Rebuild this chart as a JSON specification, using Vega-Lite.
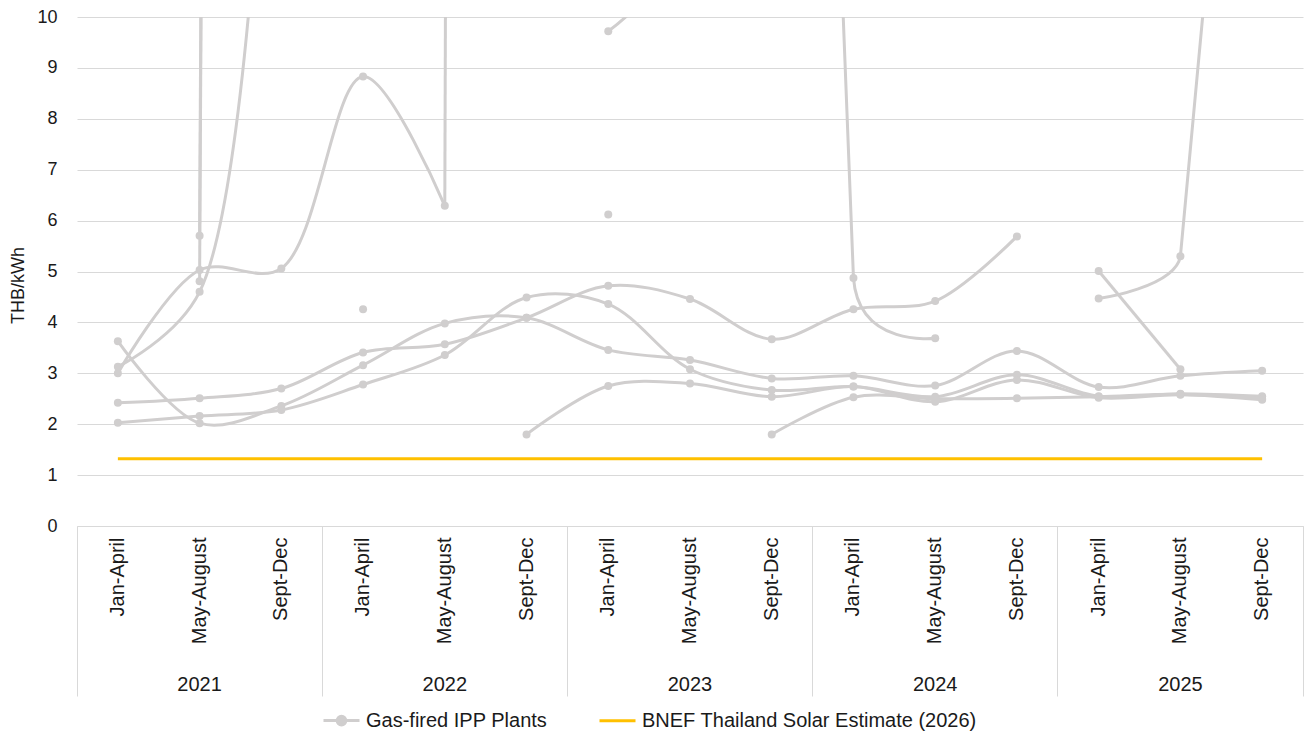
{
  "$schema": "https://vega.github.io/schema/vega-lite/v6.json",
  "width": 1226,
  "height": 509,
  "autosize": {"type": "none"},
  "padding": {"left": 77, "top": 17, "right": 3, "bottom": 209},
  "background": "white",
  "config": {
    "view": {"stroke": null},
    "font": "Liberation Sans",
    "axis": {"labelFont": "Liberation Sans", "titleFont": "Liberation Sans"},
    "legend": {"labelFont": "Liberation Sans"}
  },
  "datasets": {
    "gas": [
      {"p": "L1", "t": "2021 Jan-April", "v": 2.42},
      {"p": "L1", "t": "2021 May-August", "v": 2.51},
      {"p": "L1", "t": "2021 Sept-Dec", "v": 2.70},
      {"p": "L1", "t": "2022 Jan-April", "v": 3.41},
      {"p": "L1", "t": "2022 May-August", "v": 3.57},
      {"p": "L1", "t": "2022 Sept-Dec", "v": 4.09},
      {"p": "L1", "t": "2023 Jan-April", "v": 4.72},
      {"p": "L1", "t": "2023 May-August", "v": 4.46},
      {"p": "L1", "t": "2023 Sept-Dec", "v": 3.67},
      {"p": "L1", "t": "2024 Jan-April", "v": 4.26},
      {"p": "L1", "t": "2024 May-August", "v": 4.42},
      {"p": "L1", "t": "2024 Sept-Dec", "v": 5.69},

      {"p": "L2", "t": "2021 Jan-April", "v": 2.03},
      {"p": "L2", "t": "2021 May-August", "v": 2.16},
      {"p": "L2", "t": "2021 Sept-Dec", "v": 2.28},
      {"p": "L2", "t": "2022 Jan-April", "v": 2.78},
      {"p": "L2", "t": "2022 May-August", "v": 3.36},
      {"p": "L2", "t": "2022 Sept-Dec", "v": 4.49},
      {"p": "L2", "t": "2023 Jan-April", "v": 4.36},
      {"p": "L2", "t": "2023 May-August", "v": 3.08},
      {"p": "L2", "t": "2023 Sept-Dec", "v": 2.67},
      {"p": "L2", "t": "2024 Jan-April", "v": 2.74},
      {"p": "L2", "t": "2024 May-August", "v": 2.54},
      {"p": "L2", "t": "2024 Sept-Dec", "v": 2.97},
      {"p": "L2", "t": "2025 Jan-April", "v": 2.55},
      {"p": "L2", "t": "2025 May-August", "v": 2.60},
      {"p": "L2", "t": "2025 Sept-Dec", "v": 2.55},

      {"p": "L3", "t": "2021 Jan-April", "v": 3.63},
      {"p": "L3", "t": "2021 May-August", "v": 2.02},
      {"p": "L3", "t": "2021 Sept-Dec", "v": 2.36},
      {"p": "L3", "t": "2022 Jan-April", "v": 3.16},
      {"p": "L3", "t": "2022 May-August", "v": 3.98},
      {"p": "L3", "t": "2022 Sept-Dec", "v": 4.09},
      {"p": "L3", "t": "2023 Jan-April", "v": 3.46},
      {"p": "L3", "t": "2023 May-August", "v": 3.26},
      {"p": "L3", "t": "2023 Sept-Dec", "v": 2.90},
      {"p": "L3", "t": "2024 Jan-April", "v": 2.95},
      {"p": "L3", "t": "2024 May-August", "v": 2.76},
      {"p": "L3", "t": "2024 Sept-Dec", "v": 3.44},
      {"p": "L3", "t": "2025 Jan-April", "v": 2.73},
      {"p": "L3", "t": "2025 May-August", "v": 2.95},
      {"p": "L3", "t": "2025 Sept-Dec", "v": 3.05},

      {"p": "A", "t": "2021 Jan-April", "v": 3.13},
      {"p": "A", "t": "2021 May-August", "v": 4.60},
      {"p": "A", "t": "2021 Sept-Dec", "v": 22},

      {"p": "B", "t": "2021 Jan-April", "v": 3.00},
      {"p": "B", "t": "2021 May-August", "v": 5.03},
      {"p": "B", "t": "2021 Sept-Dec", "v": 5.06},
      {"p": "B", "t": "2022 Jan-April", "v": 8.83},
      {"p": "B", "t": "2022 May-August", "v": 6.29},
      {"p": "B", "t": "2022 Sept-Dec", "v": 500},

      {"p": "D", "t": "2021 May-August", "v": 5.70},
      {"p": "D", "t": "2021 Sept-Dec", "v": 300},

      {"p": "F", "t": "2021 May-August", "v": 4.81},
      {"p": "F", "t": "2021 Sept-Dec", "v": 300},

      {"p": "J", "t": "2022 Jan-April", "v": 4.26},
      {"p": "K", "t": "2023 Jan-April", "v": 6.12},

      {"p": "C", "t": "2023 Jan-April", "v": 9.72},
      {"p": "C", "t": "2023 May-August", "v": 12},
      {"p": "C", "t": "2023 Sept-Dec", "v": 45},
      {"p": "C", "t": "2024 Jan-April", "v": 4.87},
      {"p": "C", "t": "2024 May-August", "v": 3.69},

      {"p": "V1", "t": "2022 Sept-Dec", "v": 1.80},
      {"p": "V1", "t": "2023 Jan-April", "v": 2.75},
      {"p": "V1", "t": "2023 May-August", "v": 2.80},
      {"p": "V1", "t": "2023 Sept-Dec", "v": 2.54},
      {"p": "V1", "t": "2024 Jan-April", "v": 2.74},
      {"p": "V1", "t": "2024 May-August", "v": 2.44},
      {"p": "V1", "t": "2024 Sept-Dec", "v": 2.87},
      {"p": "V1", "t": "2025 Jan-April", "v": 2.52},
      {"p": "V1", "t": "2025 May-August", "v": 2.58},
      {"p": "V1", "t": "2025 Sept-Dec", "v": 2.48},

      {"p": "V2", "t": "2023 Sept-Dec", "v": 1.80},
      {"p": "V2", "t": "2024 Jan-April", "v": 2.53},
      {"p": "V2", "t": "2024 May-August", "v": 2.50},
      {"p": "V2", "t": "2024 Sept-Dec", "v": 2.51},
      {"p": "V2", "t": "2025 Jan-April", "v": 2.54},
      {"p": "V2", "t": "2025 May-August", "v": 2.59},
      {"p": "V2", "t": "2025 Sept-Dec", "v": 2.50},

      {"p": "G", "t": "2025 Jan-April", "v": 4.47},
      {"p": "G", "t": "2025 May-August", "v": 5.30},
      {"p": "G", "t": "2025 Sept-Dec", "v": 23},

      {"p": "I", "t": "2025 Jan-April", "v": 5.01},
      {"p": "I", "t": "2025 May-August", "v": 3.08}
    ],
    "bnef": [
      {"t": "2021 Jan-April", "v": 1.32},
      {"t": "2021 May-August", "v": 1.32},
      {"t": "2021 Sept-Dec", "v": 1.32},
      {"t": "2022 Jan-April", "v": 1.32},
      {"t": "2022 May-August", "v": 1.32},
      {"t": "2022 Sept-Dec", "v": 1.32},
      {"t": "2023 Jan-April", "v": 1.32},
      {"t": "2023 May-August", "v": 1.32},
      {"t": "2023 Sept-Dec", "v": 1.32},
      {"t": "2024 Jan-April", "v": 1.32},
      {"t": "2024 May-August", "v": 1.32},
      {"t": "2024 Sept-Dec", "v": 1.32},
      {"t": "2025 Jan-April", "v": 1.32},
      {"t": "2025 May-August", "v": 1.32},
      {"t": "2025 Sept-Dec", "v": 1.32}
    ]
  },
  "encoding": {
    "y": {
      "field": "v", "type": "quantitative",
      "scale": {"domain": [0, 10], "nice": false},
      "axis": {
        "title": "THB/kWh", "values": [0, 1, 2, 3, 4, 5, 6, 7, 8, 9, 10],
        "grid": true, "gridColor": "#d9d9d9", "gridWidth": 1, "domain": false, "ticks": false,
        "labelFontSize": 18, "labelPadding": 20, "labelColor": "#1a1a1a",
        "titleFontSize": 18, "titleFontWeight": "normal", "titleColor": "#1a1a1a",
        "titleX": -59, "titleY": 268, "titleBaseline": "middle"
      }
    }
  },
  "layer": [
    {
      "data": {"name": "gas"},
      "transform": [{"filter": "datum.p !== 'C' && datum.p !== 'G' && !(datum.p === 'B' && datum.t === '2022 Sept-Dec')"}],
      "mark": {"type": "line", "interpolate": "catmull-rom", "strokeWidth": 3, "clip": true, "strokeJoin": "round"},
      "encoding": {
        "x": {
          "field": "t", "type": "ordinal", "bandPosition": 0.5,
          "scale": {"type": "band", "paddingInner": 0, "paddingOuter": 0},
          "axis": {
            "orient": "bottom", "title": null, "labelExpr": "slice(datum.value, 5)",
            "labelAngle": -90, "labelFontSize": 20, "labelPadding": 11, "ticks": false,
            "domain": true, "domainColor": "#d9d9d9", "domainWidth": 1, "labelColor": "#1a1a1a",
            "grid": false, "labelOverlap": false
          }
        },
        "color": {
          "datum": "Gas-fired IPP Plants",
          "scale": {"domain": ["Gas-fired IPP Plants", "BNEF Thailand Solar Estimate (2026)"], "range": ["#d0cece", "#ffc000"]},
          "legend": {
            "orient": "none", "legendX": 245, "legendY": 684, "direction": "horizontal", "title": null,
            "labelFontSize": 20, "labelColor": "#1a1a1a", "symbolSize": 1296, "symbolStrokeWidth": 3,
            "columnPadding": 45, "labelOffset": 5, "labelLimit": 600, "padding": 0,
            "encode": {
              "symbols": {
                "update": {
                  "shape": {"signal": "datum.value === 'Gas-fired IPP Plants' ? 'M-1,0L1,0M-0.24,0A0.24,0.24,0,1,0,0.24,0A0.24,0.24,0,1,0,-0.24,0Z' : 'M-1,0L1,0'"},
                  "fill": {"signal": "datum.value === 'Gas-fired IPP Plants' ? '#d0cece' : 'transparent'"},
                  "stroke": {"signal": "datum.value === 'Gas-fired IPP Plants' ? '#d0cece' : '#ffc000'"},
                  "strokeWidth": {"value": 3}
                }
              }
            }
          }
        },
        "detail": {"field": "p"}
      }
    },
    {
      "data": {"name": "gas"},
      "transform": [{"filter": "datum.p === 'C' || datum.p === 'G'"}],
      "mark": {"type": "line", "interpolate": "cardinal", "tension": 0.8, "strokeWidth": 3, "clip": true, "strokeJoin": "round"},
      "encoding": {
        "x": {"field": "t", "type": "ordinal", "bandPosition": 0.5, "axis": null},
        "color": {"datum": "Gas-fired IPP Plants", "legend": null},
        "detail": {"field": "p"}
      }
    },
    {
      "data": {"name": "gas"},
      "transform": [{"filter": "datum.p === 'B' && (datum.t === '2022 May-August' || datum.t === '2022 Sept-Dec')"}],
      "mark": {"type": "line", "interpolate": "linear", "strokeWidth": 3, "clip": true},
      "encoding": {
        "x": {"field": "t", "type": "ordinal", "bandPosition": 0.5, "axis": null},
        "color": {"datum": "Gas-fired IPP Plants", "legend": null},
        "detail": {"field": "p"}
      }
    },
    {
      "data": {"name": "gas"},
      "mark": {"type": "point", "filled": true, "size": 64, "opacity": 1, "clip": true},
      "encoding": {
        "x": {
          "field": "t", "type": "ordinal", "bandPosition": 0.5,
          "axis": {
            "orient": "bottom", "title": null, "values": ["2025 Sept-Dec"], "bandPosition": 1,
            "labels": false, "domain": false, "grid": false, "ticks": true, "tickSize": 170,
            "tickColor": "#d9d9d9", "tickWidth": 1
          }
        },
        "color": {"datum": "Gas-fired IPP Plants", "legend": null}
      }
    },
    {
      "data": {"name": "bnef"},
      "mark": {"type": "line", "strokeWidth": 3, "clip": true},
      "encoding": {
        "x": {
          "field": "t", "type": "ordinal", "bandPosition": 0.5,
          "axis": {
            "orient": "bottom", "title": null,
            "values": ["2021 Jan-April", "2022 Jan-April", "2023 Jan-April", "2024 Jan-April", "2025 Jan-April"],
            "bandPosition": 0, "labelExpr": "slice(datum.value, 0, 4)", "labelAngle": 0, "labelAlign": "center",
            "labelOffset": 81.73, "labelPadding": -22, "labelFontSize": 20, "labelColor": "#1a1a1a",
            "domain": false, "grid": false, "ticks": true, "tickSize": 170, "tickColor": "#d9d9d9", "tickWidth": 1
          }
        },
        "color": {"datum": "BNEF Thailand Solar Estimate (2026)", "legend": null}
      }
    }
  ],
  "resolve": {"axis": {"x": "independent"}}
}
